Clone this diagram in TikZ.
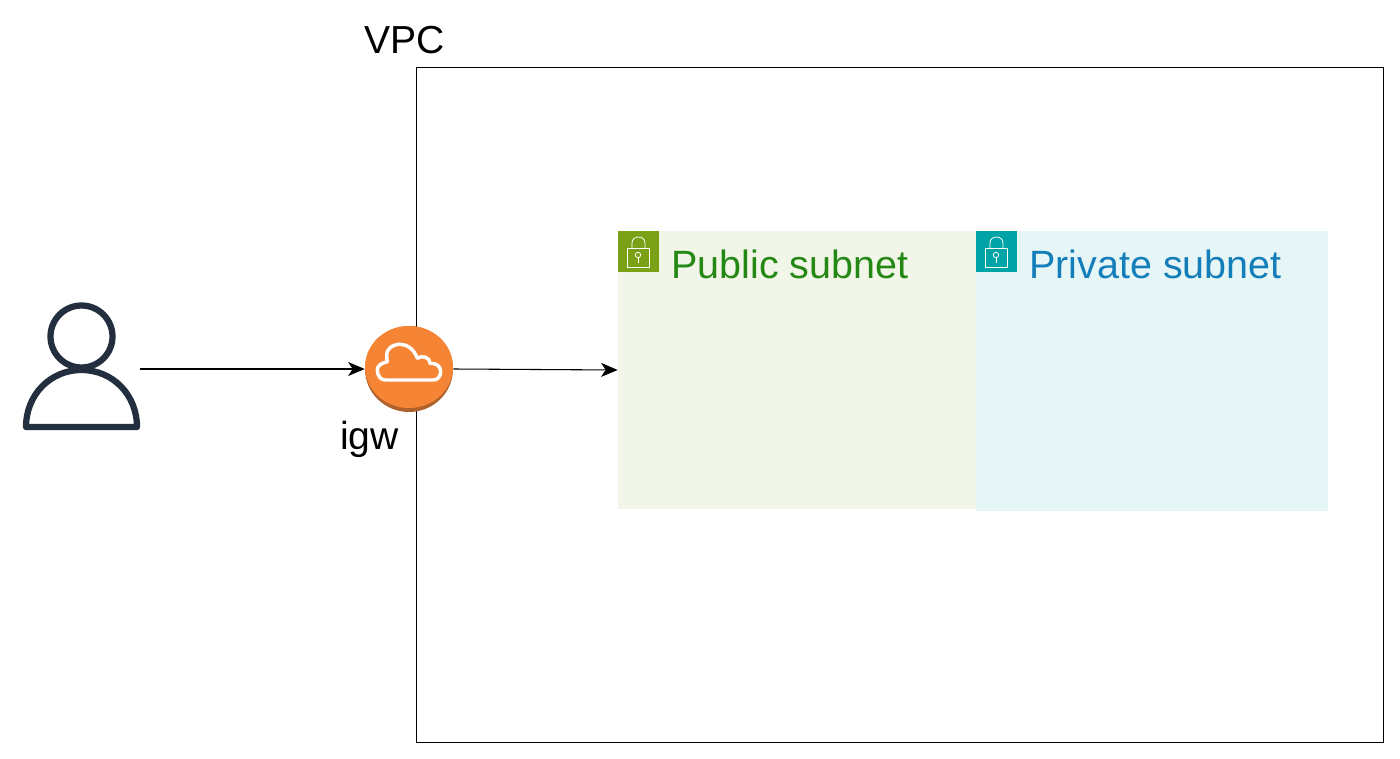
\documentclass[tikz,border=0pt]{standalone}
\usepackage{fontspec}
\setmainfont{Liberation Sans}
\usetikzlibrary{arrows.meta,shapes.geometric}
\definecolor{pubgreen}{RGB}{122,161,22}
\definecolor{pubtext}{RGB}{36,136,20}
\definecolor{pubfill}{RGB}{242,246,232}
\definecolor{privteal}{RGB}{0,164,166}
\definecolor{privtext}{RGB}{20,126,186}
\definecolor{privfill}{RGB}{230,246,247}
\definecolor{userblue}{RGB}{35,47,62}
\definecolor{igworange}{RGB}{245,133,52}
\definecolor{igwdark}{RGB}{176,98,44}
\tikzset{
  label/.style={font=\fontsize{29.3pt}{34pt}\selectfont,anchor=base west,inner sep=0pt},
  sublabel/.style={font=\fontsize{29.6pt}{34pt}\selectfont,anchor=base west,inner sep=0pt},
  subnet/.style={inner sep=0pt,minimum width=#1*0.75pt},
  conn/.style={line width=0.8pt,-{Stealth[length=12.5pt,width=10.5pt,inset=3.5pt]}},
  pics/lockbadge/.style={code={
    \fill [#1] (0,0) rectangle (41,41);
    \draw [white,line width=0.6pt] (9,17) rectangle (31,36);
    \draw [white,line width=0.6pt] (14,17) -- (14,12) .. controls (14,4) and (27,4) .. (27,12) -- (27,17);
    \draw [white,line width=0.6pt] (20,24) circle (2.7);
    \draw [white,line width=0.6pt] (20,26.7) -- (20,32);
  }}
}
\begin{document}
\begin{tikzpicture}[x=0.75pt,y=0.75pt,yscale=-1,xscale=1]
\useasboundingbox (0,0) rectangle (1400,759);

%Shape: Rectangle
\draw [line width=0.7pt] (416,67) -- (1383,67) -- (1383,742) -- (416,742) -- cycle ;

%Subnets
\node (pub) [subnet=358,minimum height=208.5pt,fill=pubfill] at (797,370) {};
\node (priv) [subnet=352,minimum height=210pt,fill=privfill] at (1152,371) {};

%Lock badges
\pic [yscale=-1] at (618,231) {lockbadge=pubgreen};
\pic [yscale=-1] at (976,231) {lockbadge=privteal};

%Shape: User
\node (user) [inner sep=0pt,minimum width=87pt,minimum height=100pt] at (82,369) {};
\draw [userblue,line width=4.7pt] (81.5,336.5) circle (31);
\draw [userblue,line width=4.7pt,line join=round] (26,427) .. controls (26,395) and (50,370) .. (81.5,370) .. controls (113,370) and (137,395) .. (137,427) -- cycle ;

%Shape: Gateway
\node (igw) [ellipse,inner sep=0pt,minimum width=66pt,minimum height=64.5pt,fill=igwdark] at (409,369) {};
\node (igwtop) [ellipse,inner sep=0pt,minimum width=66pt,minimum height=61.5pt,fill=igworange] at (409,367) {};
\draw [white,line width=2.6pt,line join=round] (385,380) -- (433.3,380) .. controls (438,380) and (440.7,376) .. (440.7,371.7) .. controls (440.7,366) and (436,363) .. (430,363.3) .. controls (430,357) and (422,355) .. (417.3,358.3) .. controls (414,349) and (407,344.3) .. (400,344.3) .. controls (392,344.3) and (386,350) .. (386.7,355) .. controls (386.7,358) and (387,360) .. (387.3,361.7) .. controls (381,363) and (377.3,366) .. (377.3,370) .. controls (377.3,376) and (381,380) .. (385,380) -- cycle ;

%Straight Lines
\draw [conn] (user.east) -- (igw.west) ;
\draw [conn] (igw.east) -- (pub.west) ;

% Text Node
\node (vpclabel) [label] at (364,54) {VPC};
% Text Node
\node (igwlabel) [label] at (340,449) {igw};
% Text Node
\node (publabel) [sublabel,text=pubtext] at (671,279) {Public subnet};
% Text Node
\node (privlabel) [sublabel,text=privtext] at (1029,279) {Private subnet};
\end{tikzpicture}
\end{document}
